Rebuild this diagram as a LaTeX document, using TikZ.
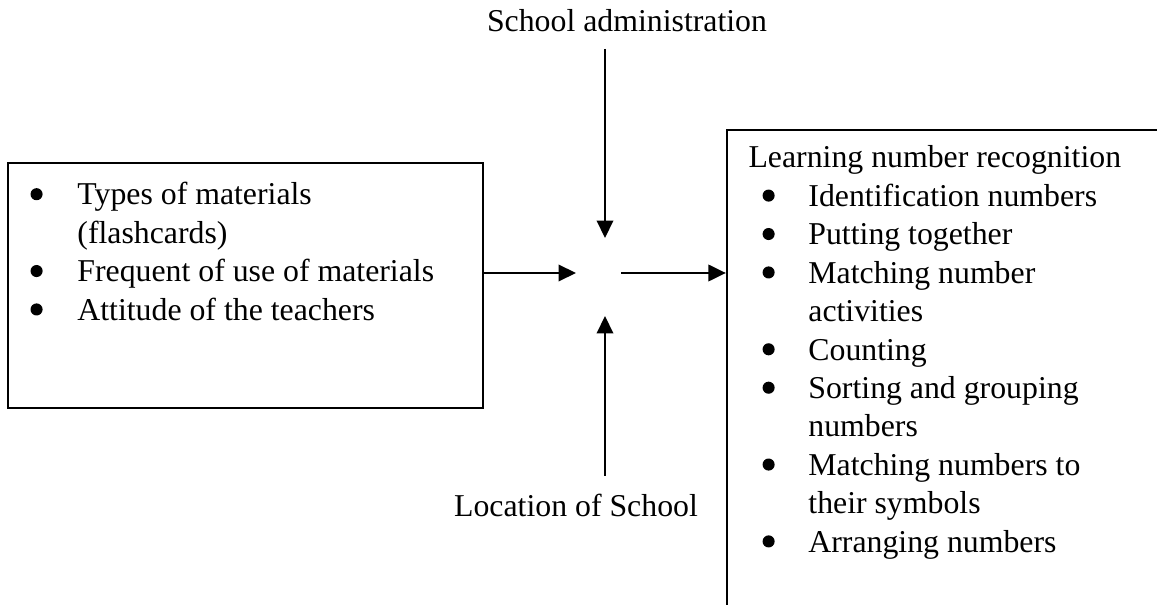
\documentclass[tikz,border=0pt]{standalone}
\usepackage{fontspec}
\setmainfont{Liberation Serif}
\usetikzlibrary{arrows.meta,fit}

% round list bullet, about the size of a Symbol-font bullet
\newcommand{\blt}{\tikz[baseline=0pt]\fill (0.19em,0.34em) circle (0.19em);}

\begin{document}
\begin{tikzpicture}[
    x=0.3774pt, y=-0.3774pt,
    every node/.style={font=\fontsize{12}{14.5}\selectfont},
    frame/.style={draw, line width=0.85pt, inner sep=0pt},
    listtext/.style={anchor=base west, inner sep=0pt, align=left},
    label/.style={anchor=base, inner sep=0pt},
    arrow/.style={draw, line width=0.9pt, -{Triangle[length=6.6pt, width=6.2pt]}}
  ]
  \useasboundingbox (0,0) rectangle (1157,605);
  \clip (0,0) rectangle (1157,605);

  % central meeting point of the four arrows
  \coordinate (hub) at (605,273);
  \coordinate (hubW) at (576,273);
  \coordinate (hubE) at (621,273);
  \coordinate (hubN) at (605,238);
  \coordinate (hubS) at (605,316);
  \coordinate (adminEnd) at (605,49);
  \coordinate (locEnd) at (605,476);

  % independent variables
  \node[frame, fit={(8,163) (483,408)}] (inputs) {};
  \node[listtext] (inputsText) at (30,205) {%
    \begin{tabular}[t]{@{}p{17.7pt}@{}l@{}}
      \blt & Types of materials\\
           & (flashcards)\\
      \blt & Frequent of use of materials\\
      \blt & Attitude of the teachers
    \end{tabular}};

  % dependent variable (box runs past the page edge)
  \node[frame, fit={(727,130) (1220,660)}] (outcome) {};
  \node[listtext] (outcomeText) at (748,168) {%
    \begin{tabular}[t]{@{}p{22.6pt}@{}l@{}}
      \multicolumn{2}{@{}l@{}}{Learning number recognition}\\
      \hspace{5.3pt}\blt & Identification numbers\\
      \hspace{5.3pt}\blt & Putting together\\
      \hspace{5.3pt}\blt & Matching number\\
                         & activities\\
      \hspace{5.3pt}\blt & Counting\\
      \hspace{5.3pt}\blt & Sorting and grouping\\
                         & numbers\\
      \hspace{5.3pt}\blt & Matching numbers to\\
                         & their symbols\\
      \hspace{5.3pt}\blt & Arranging numbers
    \end{tabular}};

  % intervening variables
  \node[label] (admin) at (627,32) {School administration};
  \node[label] (location) at (576,517) {Location of School};

  % connectors
  \draw[arrow] (inputs.east |- hub) -- (hubW);
  \draw[arrow] (hubE) -- (outcome.west |- hub);
  \draw[arrow] (adminEnd) -- (hubN);
  \draw[arrow] (locEnd) -- (hubS);
\end{tikzpicture}
\end{document}
